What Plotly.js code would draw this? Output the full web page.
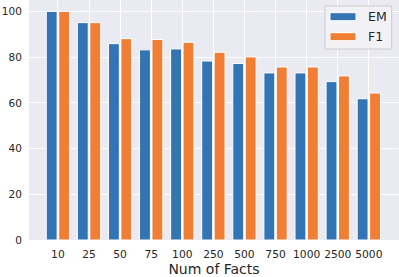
<!DOCTYPE html>
<html>
<head>
<meta charset="utf-8">
<script src="https://cdn.plot.ly/plotly-3.0.1.min.js"></script>
<style>html,body{margin:0;padding:0;background:#fff;}#chart{width:399px;height:277px;}</style>
</head>
<body>
<div id="chart"></div>
<script>
var categories = ["10","25","50","75","100","250","500","750","1000","2500","5000"];
var emValues = [100, 95.1, 85.9, 83.2, 83.6, 78.3, 77.2, 73.1, 73.1, 69.3, 61.8];
var f1Values = [100, 95.1, 88.1, 87.7, 86.5, 82.1, 80.1, 75.7, 75.7, 71.8, 64.3];
var seriesNames = ["EM", "F1"];
var xTitle = "Num of Facts";

var blue = "#3274b4", orange = "#f07f35";
var font = "DejaVu Sans, sans-serif";
var textColor = "#262626";

var traces = [
  {type:"bar", name:seriesNames[0], x:categories, y:emValues, width:0.35, offset:-0.375,
   marker:{color:blue, line:{color:"#ffffff", width:1}}, showlegend:false},
  {type:"bar", name:seriesNames[1], x:categories, y:f1Values, width:0.35, offset:0.025,
   marker:{color:orange, line:{color:"#ffffff", width:1}}, showlegend:false}
];

function px2x(p){return (p-29)/370;}
function px2y(p){return (240-p)/240;}

var layout = {
  width:399, height:277,
  margin:{l:29, r:0, t:0, b:37, pad:0},
  paper_bgcolor:"#ffffff",
  plot_bgcolor:"#eaeaf2",
  barmode:"group",
  font:{family:font, color:textColor, size:10.7},
  xaxis:{type:"category", range:[-0.93, 10.97], showgrid:true, gridcolor:"#ffffff", gridwidth:1,
    zeroline:false, showline:false, ticks:"outside", ticklen:4, tickcolor:"rgba(0,0,0,0)",
    tickfont:{family:font, size:10.7, color:textColor},
    title:{text:xTitle, font:{family:font, size:14, color:textColor}, standoff:8}},
  yaxis:{range:[0,105], tickvals:[0,20,40,60,80,100], showgrid:true, gridcolor:"#ffffff", gridwidth:1,
    zeroline:false, showline:false, ticks:"outside", ticklen:4, tickcolor:"rgba(0,0,0,0)",
    tickfont:{family:font, size:10.5, color:textColor}},
  shapes:[
    {type:"rect", xref:"paper", yref:"paper", x0:px2x(325), x1:px2x(391.7), y0:px2y(49), y1:px2y(6),
     fillcolor:"#f2f2f6", line:{color:"#cccccc", width:1}, layer:"above"},
    {type:"rect", xref:"paper", yref:"paper", x0:px2x(330), x1:px2x(356), y0:px2y(20.7), y1:px2y(12.7),
     fillcolor:blue, line:{color:"#ffffff", width:1}, layer:"above"},
    {type:"rect", xref:"paper", yref:"paper", x0:px2x(330), x1:px2x(356), y0:px2y(40.7), y1:px2y(32.7),
     fillcolor:orange, line:{color:"#ffffff", width:1}, layer:"above"}
  ],
  annotations:[
    {xref:"paper", yref:"paper", x:px2x(366), y:px2y(16.7), xanchor:"left", yanchor:"middle",
     text:seriesNames[0], showarrow:false, font:{family:font, size:12.5, color:textColor}},
    {xref:"paper", yref:"paper", x:px2x(366), y:px2y(36.7), xanchor:"left", yanchor:"middle",
     text:seriesNames[1], showarrow:false, font:{family:font, size:12.5, color:textColor}}
  ]
};

Plotly.newPlot("chart", traces, layout, {displayModeBar:false, staticPlot:true});
</script>
</body>
</html>
